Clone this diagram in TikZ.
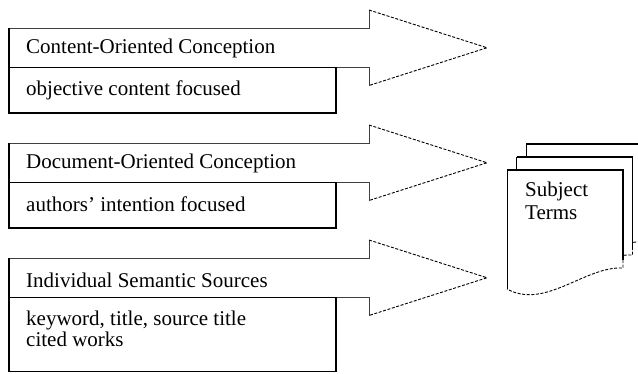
\documentclass[tikz,border=0pt]{standalone}
\usepackage{fontspec}
\setmainfont{Liberation Serif}
\begin{document}
\begin{tikzpicture}[x=1pt,y=-1pt,
  arrowline/.style={draw=black!75, line width=0.8pt},
  tipline/.style={draw=black, line width=0.9pt, dash pattern=on 3pt off 1.6pt},
  boxline/.style={draw=black, line width=1.6pt},
  lbl/.style={anchor=base west, inner sep=0pt, font=\fontsize{21}{21}\selectfont},
  docpage/.pic={
    \fill[white] (0,0) -- (116,0) -- (116,98) .. controls (78,96) and (38,140) .. (0,119) -- cycle;
    \draw[line width=0.7pt] (0,119) -- (0,0);
    \draw[line width=1.3pt] (0,0) -- (116,0) -- (116,90);
    \draw[tipline] (116,90) -- (116,98) .. controls (78,96) and (38,140) .. (0,119);
  }]
\useasboundingbox (0,0) rectangle (638,373);
\clip (0,0) rectangle (638,373);
\fill[white] (0,0) rectangle (638,373);

\foreach \t/\b in {28/113, 143/228, 258/371.5}{
  \pgfmathsetmacro\m{\t+39.5}
  \pgfmathsetmacro\nt{\t-18}
  \pgfmathsetmacro\nb{\t+57.5}
  \pgfmathsetmacro\tp{\t+19.75}
  \draw[arrowline] (336,\m) -- (369,\m) -- (369,\nb);
  \draw[arrowline] (9,\t) -- (369,\t) -- (369,\nt);
  \draw[tipline] (369,\nt) -- (487,\tp) -- (369,\nb);
  \draw[boxline] (9,\t) -- (9,\b) -- (336,\b) -- (336,\m) -- (9,\m);
}

\node[lbl] (c1) at (26,53) {Content-Oriented Conception};
\node[lbl] (d1) at (26,95) {objective content focused};
\node[lbl] (c2) at (26,168) {Document-Oriented Conception};
\node[lbl] (d2) at (26,211) {authors’ intention focused};
\node[lbl] (c3) at (26,287) {Individual Semantic Sources};
\node[lbl] (d3a) at (26,325) {keyword, title, source title};
\node[lbl] (d3b) at (26,346) {cited works};

\pic at (526,144) {docpage};
\pic at (516.5,157) {docpage};
\pic at (507,170) {docpage};

\node[lbl] (s1) at (525,196) {Subject};
\node[lbl] (s2) at (525,219) {Terms};
\end{tikzpicture}
\end{document}
